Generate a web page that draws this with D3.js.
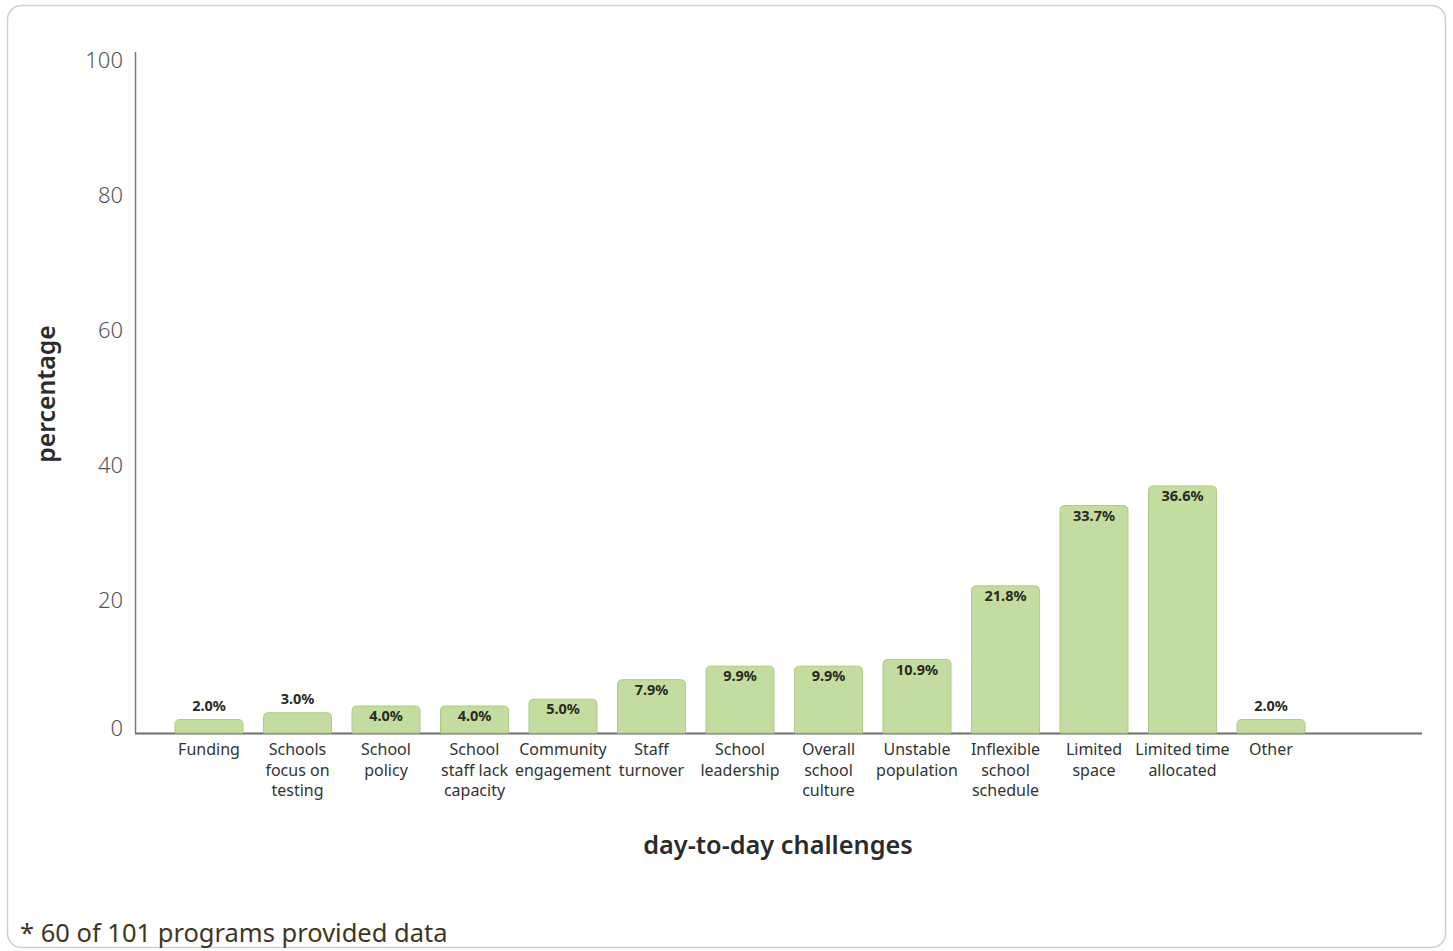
<!DOCTYPE html>
<html>
<head>
<meta charset="utf-8">
<script src="https://cdn.jsdelivr.net/npm/d3@7"></script>
<style>
  body { margin: 0; background: #fff; }
  svg { display: block; font-family: "Noto Sans", "Open Sans", sans-serif; }
</style>
</head>
<body>
<svg id="chart" width="1453" height="951"></svg>
<script>
// categories (lines of each x label) and values
const categories = [
  ["Funding"],
  ["Schools", "focus on", "testing"],
  ["School", "policy"],
  ["School", "staff lack", "capacity"],
  ["Community", "engagement"],
  ["Staff", "turnover"],
  ["School", "leadership"],
  ["Overall", "school", "culture"],
  ["Unstable", "population"],
  ["Inflexible", "school", "schedule"],
  ["Limited", "space"],
  ["Limited time", "allocated"],
  ["Other"]
]
const values = [2.0, 3.0, 4.0, 4.0, 5.0, 7.9, 9.9, 9.9, 10.9, 21.8, 33.7, 36.6, 2.0]
const yTicks = [0, 20, 40, 60, 80, 100]

const svg = d3.select("#chart")

// outer rounded frame
svg.append("rect")
  .attr("x", 7.5).attr("y", 5.5)
  .attr("width", 1438).attr("height", 942)
  .attr("rx", 14)
  .attr("fill", "#fff")
  .attr("stroke", "#d9d0c2")
  .attr("stroke-width", 1.5)

const data = categories.map((c, i) => ({ key: c.join(" "), lines: c, value: values[i] }))

let x = d3.scaleBand()
  .domain(data.map(d => d.key))
  .range([164.75, 1315.25])
  .paddingInner(0.232)
  .paddingOuter(0.116)

let y = d3.scaleLinear()
  .domain([0, 100])
  .range([733, 58])

// axes lines
svg.append("line")
  .attr("x1", 135.5).attr("x2", 135.5)
  .attr("y1", 52).attr("y2", 733)
  .attr("stroke", "#7a7a7a").attr("stroke-width", 1.5)
svg.append("line")
  .attr("x1", 135).attr("x2", 1422)
  .attr("y1", 733.5).attr("y2", 733.5)
  .attr("stroke", "#6e6e6e").attr("stroke-width", 2)

// y tick labels
svg.selectAll(".ytick")
  .data(yTicks)
  .enter().append("text")
  .attr("class", "ytick")
  .attr("x", 123)
  .attr("y", d => d === 0 ? y(d) - 5 : y(d) + 2)
  .attr("dy", "0.35em")
  .attr("text-anchor", "end")
  .attr("font-size", 22)
  .attr("font-weight", 300)
  .attr("fill", "#555")
  .text(d => d)

// bars with rounded top corners
function barPath(d) {
  const x0 = x(d.key), w = x.bandwidth(), y0 = y(d.value), yb = y(0)
  const r = Math.min(5, (yb - y0) / 2)
  return `M${x0},${yb} V${y0 + r} Q${x0},${y0} ${x0 + r},${y0} H${x0 + w - r} Q${x0 + w},${y0} ${x0 + w},${y0 + r} V${yb} Z`
}

svg.selectAll(".bar")
  .data(data)
  .enter().append("path")
  .attr("class", "bar")
  .attr("d", barPath)
  .attr("fill", "#c3dc9f")
  .attr("stroke", "#afca86")
  .attr("stroke-width", 1)

// value labels
svg.selectAll(".vlabel")
  .data(data)
  .enter().append("text")
  .attr("class", "vlabel")
  .attr("x", d => x(d.key) + x.bandwidth() / 2)
  .attr("y", d => d.value < 3.5 ? y(d.value) - 14 : y(d.value) + 10)
  .attr("dy", "0.35em")
  .attr("text-anchor", "middle")
  .attr("font-size", 14.5)
  .attr("font-weight", "bold")
  .attr("fill", "#2a2a22")
  .text(d => d.value.toFixed(1) + "%")

// category labels
let cat = svg.selectAll(".cat")
  .data(data)
  .enter().append("text")
  .attr("class", "cat")
  .attr("text-anchor", "middle")
  .attr("font-size", 16)
  .attr("fill", "#333")

cat.selectAll("tspan")
  .data(d => d.lines.map(l => ({ l: l, cx: x(d.key) + x.bandwidth() / 2 })))
  .enter().append("tspan")
  .attr("x", d => d.cx)
  .attr("y", (d, i) => 755 + i * 20.5)
  .text(d => d.l)

// axis titles
svg.append("text")
  .attr("x", 778).attr("y", 854)
  .attr("text-anchor", "middle")
  .attr("font-size", 25.3)
  .attr("font-weight", 600)
  .attr("fill", "#2b2b2b")
  .text("day-to-day challenges")

svg.append("text")
  .attr("transform", "translate(55,394) rotate(-90)")
  .attr("text-anchor", "middle")
  .attr("font-size", 24.8)
  .attr("font-weight", 600)
  .attr("fill", "#2b2b2b")
  .text("percentage")

// footnote
svg.append("text")
  .attr("x", 20).attr("y", 942)
  .attr("font-size", 25.5)
  .attr("fill", "#3f361f")
  .text("* 60 of 101 programs provided data")
</script>
</body>
</html>
